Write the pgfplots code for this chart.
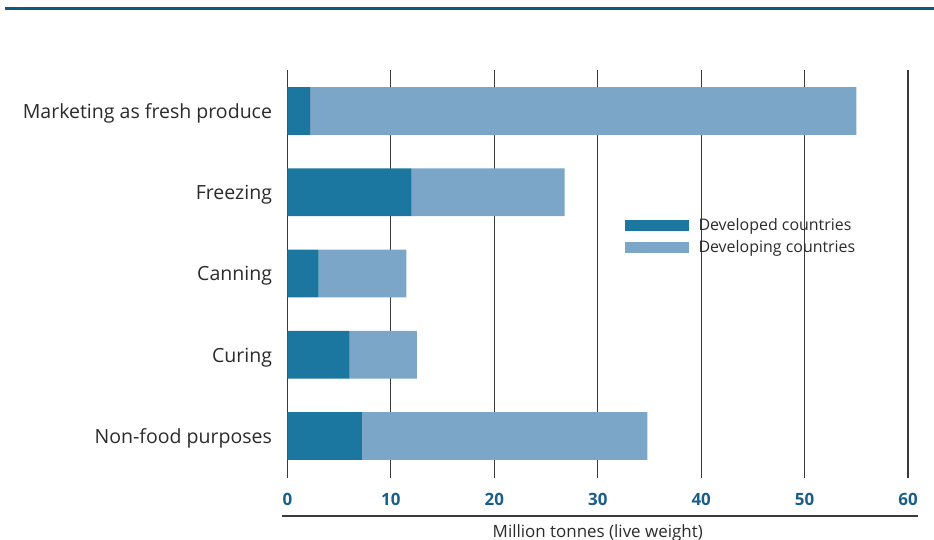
\documentclass[border=0pt]{standalone}
\usepackage{fontspec}
\setmainfont{Open Sans}
\usepackage{pgfplots}
\pgfplotsset{compat=1.18}
\definecolor{devd}{HTML}{1B76A0}
\definecolor{devg}{HTML}{7BA6C7}
\definecolor{tickblue}{HTML}{1A5F8A}
\definecolor{topblue}{HTML}{0E5A80}
\definecolor{gridc}{HTML}{3A3A3A}
\definecolor{txt}{HTML}{2B2B2B}
\begin{document}
\begin{tikzpicture}
\path[use as bounding box] (-287.5bp,-62bp) rectangle (646.5bp,478bp);
\begin{axis}[
  at={(0,0)}, anchor=south west,
  scale only axis, width=620.5bp, height=408bp,
  xbar stacked, bar width=0.59,
  xmin=0, xmax=60, ymin=-0.517, ymax=4.505,
  xtick={0,10,...,60},
  ytick={0,1,2,3,4},
  yticklabels={Non-food purposes,Curing,Canning,Freezing,Marketing as fresh produce},
  /pgf/number format/assume math mode=true,
  axis lines*=left,
  axis line style={draw=none},
  major tick length=0pt,
  xmajorgrids, major grid style={gridc, line width=1.1bp},
  xticklabel style={font=\fontsize{17}{20}\selectfont\bfseries, text=tickblue, yshift=-12bp},
  yticklabel style={font=\fontsize{19.6}{22}\selectfont, text=txt, xshift=-12bp, yshift=-2.5bp},
  legend style={at={(0.538,0.647)}, anchor=north west, draw=none, fill=none,
    font=\fontsize{16}{19}\selectfont, text=txt, row sep=5bp,
    /tikz/every even column/.append style={column sep=4bp}},
  legend cell align=left,
  legend image code/.code={\fill[#1] (0bp,-5.5bp) rectangle (64bp,5.5bp);},
  clip=false,
]
\addplot+[draw=none, fill=devd] coordinates {(7.2,0) (6.0,1) (3.0,2) (12.0,3) (2.2,4)};
\addplot+[draw=none, fill=devg] coordinates {(27.6,0) (6.5,1) (8.5,2) (14.8,3) (52.8,4)};
\legend{\hspace{8bp}Developed countries, \hspace{8bp}Developing countries}
\draw[gridc, line width=1.4bp] ([xshift=-5.5bp,yshift=-38bp]rel axis cs:0,0) -- ([xshift=10bp,yshift=-38bp]rel axis cs:1,0);
\node[font=\fontsize{17}{20}\selectfont, text=txt, anchor=center] at ([yshift=-55bp]rel axis cs:0.5,0) {Million tonnes (live weight)};
\end{axis}
\draw[topblue, line width=3bp] (-282.5bp,469bp) -- (646.5bp,469bp);
\end{tikzpicture}
\end{document}
